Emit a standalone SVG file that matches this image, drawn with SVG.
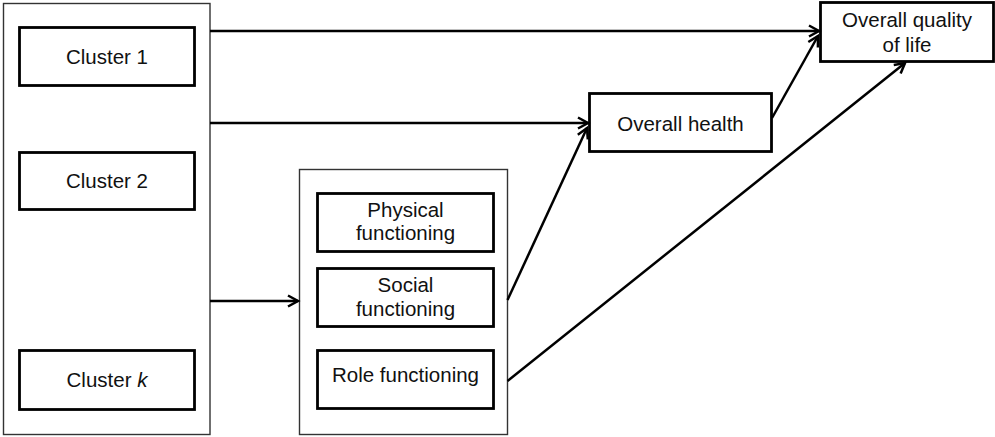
<svg xmlns="http://www.w3.org/2000/svg" width="995" height="437" viewBox="0 0 995 437">
<defs>
<marker id="arr" markerUnits="userSpaceOnUse" markerWidth="16" markerHeight="16" viewBox="-2 -2 16 16" refX="11" refY="6" orient="auto">
<path d="M1,0.5 L11,6 L1,11.5" fill="none" stroke="#000" stroke-width="2.5" stroke-linejoin="miter"/>
</marker>
<style>
.cont{fill:#fff;stroke:#333;stroke-width:1.4}
.box{fill:#fff;stroke:#000;stroke-width:2.8}
.t{font-family:"Liberation Sans",Arial,sans-serif;font-size:20.5px;fill:#111;text-anchor:middle}
.c{fill:none;stroke:#000;stroke-width:2.5}
</style>
</defs>
<rect width="995" height="437" fill="#fff"/>
<g id="clusters">
<rect class="cont" x="3.5" y="3.5" width="206.5" height="431"/>
</g>
<g id="cluster1">
<rect class="box" x="19.5" y="27.5" width="175" height="58"/>
<text class="t" x="107" y="64">Cluster 1</text>
</g>
<g id="cluster2">
<rect class="box" x="19.5" y="152.5" width="175" height="57"/>
<text class="t" x="107" y="188">Cluster 2</text>
</g>
<g id="clusterk">
<rect class="box" x="19.5" y="350.5" width="175" height="59"/>
<text class="t" x="107" y="387">Cluster <tspan font-style="italic">k</tspan></text>
</g>
<g id="functioning">
<rect class="cont" x="299.5" y="169.5" width="208" height="265"/>
</g>
<g id="physical">
<rect class="box" x="317.5" y="193.5" width="176" height="58"/>
<text class="t" x="405.5" y="217">Physical</text>
<text class="t" x="405.5" y="240">functioning</text>
</g>
<g id="social">
<rect class="box" x="317.5" y="268.5" width="176" height="58"/>
<text class="t" x="405.5" y="292">Social</text>
<text class="t" x="405.5" y="316">functioning</text>
</g>
<g id="role">
<rect class="box" x="317.5" y="350.5" width="176" height="58"/>
<text class="t" x="405.5" y="382">Role functioning</text>
</g>
<g id="health">
<rect class="box" x="589.5" y="93.5" width="182" height="58"/>
<text class="t" x="680.5" y="131">Overall health</text>
</g>
<g id="qol">
<rect class="box" x="820.5" y="2.5" width="173" height="59"/>
<text class="t" x="907" y="27">Overall quality</text>
<text class="t" x="907" y="52">of life</text>
</g>
<g id="connectors">
<line class="c" x1="210" y1="31" x2="819" y2="31" marker-end="url(#arr)"/>
<line class="c" x1="210" y1="123" x2="588" y2="123" marker-end="url(#arr)"/>
<line class="c" x1="210" y1="301" x2="298" y2="301" marker-end="url(#arr)"/>
<line class="c" x1="507.5" y1="300" x2="587" y2="128" marker-end="url(#arr)"/>
<line class="c" x1="772" y1="118" x2="818" y2="36" marker-end="url(#arr)"/>
<line class="c" x1="507.5" y1="381" x2="905" y2="63" marker-end="url(#arr)"/>
</g>
</svg>
